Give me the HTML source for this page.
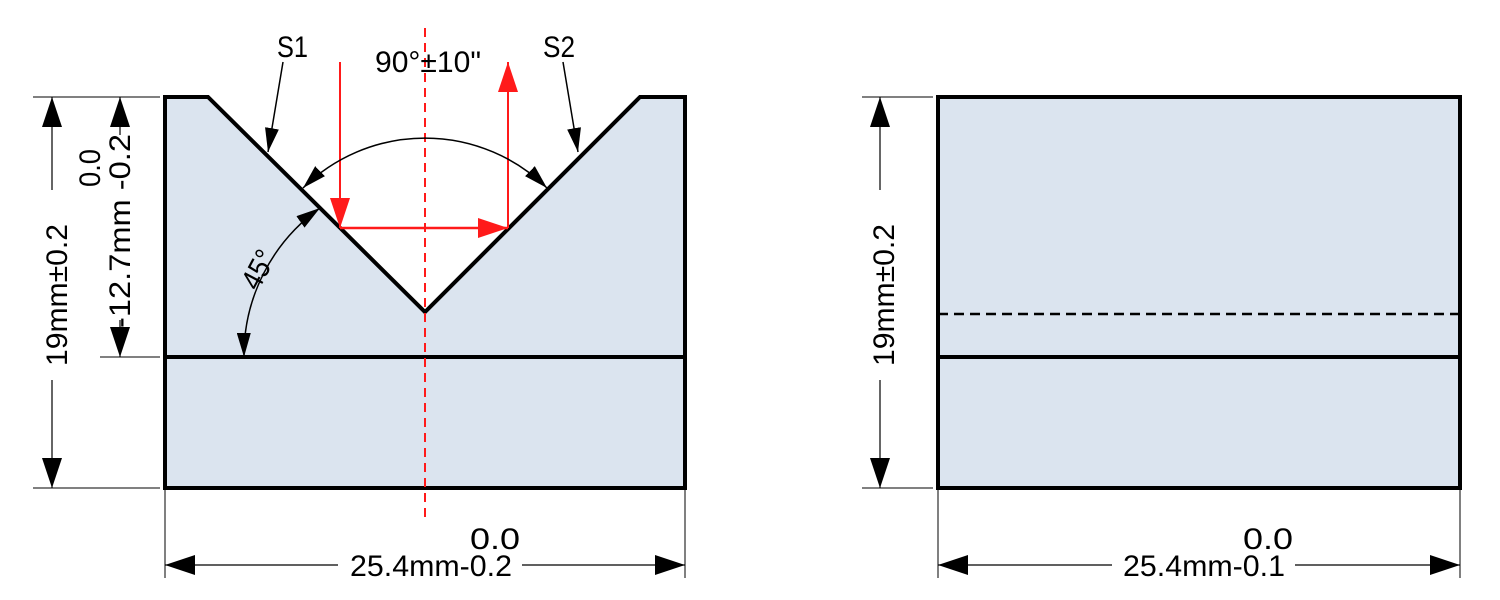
<!DOCTYPE html>
<html><head><meta charset="utf-8"><style>
html,body{margin:0;padding:0;background:#fff;}
svg{display:block;}
text{font-family:"Liberation Sans Narrow","Liberation Sans",sans-serif;font-size:30px;fill:#000;}
</style></head><body>
<svg width="1500" height="600" viewBox="0 0 1500 600" xmlns="http://www.w3.org/2000/svg">
<defs>
<marker id="a" viewBox="0 0 30 20" refX="30" refY="10" markerWidth="30" markerHeight="20" markerUnits="userSpaceOnUse" orient="auto-start-reverse"><path d="M0,0 L30,10 L0,20 Z" fill="#000"/></marker>
<marker id="s" viewBox="0 0 24 14" refX="24" refY="7" markerWidth="24" markerHeight="14" markerUnits="userSpaceOnUse" orient="auto-start-reverse"><path d="M0,0 L24,7 L0,14 Z" fill="#000"/></marker>
<marker id="r" viewBox="0 0 30 20" refX="30" refY="10" markerWidth="30" markerHeight="20" markerUnits="userSpaceOnUse" orient="auto"><path d="M0,0 L30,10 L0,20 Z" fill="#ff1a1a"/></marker>
</defs>

<path d="M165,97 L208,97 L425,312 L640,97 L685,97 L685,488 L165,488 Z" fill="#dbe4ef" stroke="#000" stroke-width="4"/>
<line x1="165" y1="357" x2="685" y2="357" stroke="#000" stroke-width="4"/>
<line x1="425" y1="28" x2="425" y2="518" stroke="#ff1a1a" stroke-width="2" stroke-dasharray="9,6"/>

<line x1="340" y1="62" x2="340" y2="228" stroke="#ff1a1a" stroke-width="2" marker-end="url(#r)"/>
<line x1="340" y1="228" x2="508" y2="228" stroke="#ff1a1a" stroke-width="2.5" marker-end="url(#r)"/>
<line x1="508" y1="228" x2="508" y2="62" stroke="#ff1a1a" stroke-width="2" marker-end="url(#r)"/>

<path d="M303,188 A174,174 0 0 1 547,188" fill="none" stroke="#000" stroke-width="1.5" marker-start="url(#s)" marker-end="url(#s)"/>
<path d="M244,357 A181,181 0 0 1 320,208" fill="none" stroke="#000" stroke-width="1.5" marker-start="url(#s)" marker-end="url(#s)"/>
<text transform="translate(258,292) rotate(-62)" textLength="40" lengthAdjust="spacingAndGlyphs">45°</text>

<line x1="283" y1="62" x2="268" y2="152" stroke="#000" stroke-width="1.5" marker-end="url(#s)"/>
<line x1="563" y1="62" x2="578" y2="152" stroke="#000" stroke-width="1.5" marker-end="url(#s)"/>
<text x="277" y="57" textLength="31" lengthAdjust="spacingAndGlyphs">S1</text>
<text x="543" y="57" textLength="32" lengthAdjust="spacingAndGlyphs">S2</text>
<text x="375" y="72" textLength="106" lengthAdjust="spacingAndGlyphs">90°±10"</text>

<line x1="33" y1="97" x2="160" y2="97" stroke="#000" stroke-width="1"/>
<line x1="33" y1="488" x2="160" y2="488" stroke="#000" stroke-width="1"/>
<line x1="100" y1="357" x2="160" y2="357" stroke="#000" stroke-width="1"/>
<line x1="52" y1="190" x2="52" y2="97" stroke="#000" stroke-width="1.2" marker-end="url(#a)"/>
<line x1="52" y1="380" x2="52" y2="488" stroke="#000" stroke-width="1.2" marker-end="url(#a)"/>
<text transform="translate(67,366) rotate(-90)" textLength="142" lengthAdjust="spacingAndGlyphs">19mm±0.2</text>
<line x1="120" y1="135" x2="120" y2="97" stroke="#000" stroke-width="1.2" marker-end="url(#a)"/>
<line x1="120" y1="320" x2="120" y2="357" stroke="#000" stroke-width="1.2" marker-end="url(#a)"/>
<text transform="translate(130,328) rotate(-90)" textLength="194" lengthAdjust="spacingAndGlyphs">-12.7mm -0.2</text>
<text transform="translate(100,187) rotate(-90)" textLength="38" lengthAdjust="spacingAndGlyphs">0.0</text>

<line x1="165" y1="490" x2="165" y2="578" stroke="#000" stroke-width="1"/>
<line x1="685" y1="490" x2="685" y2="578" stroke="#000" stroke-width="1"/>
<line x1="250" y1="565" x2="165" y2="565" stroke="#000" stroke-width="1.2" marker-end="url(#a)"/>
<line x1="600" y1="565" x2="685" y2="565" stroke="#000" stroke-width="1.2" marker-end="url(#a)"/>
<line x1="250" y1="565" x2="338" y2="565" stroke="#000" stroke-width="1.2"/>
<line x1="522" y1="565" x2="600" y2="565" stroke="#000" stroke-width="1.2"/>
<text x="350" y="576" textLength="162" lengthAdjust="spacingAndGlyphs">25.4mm-0.2</text>
<text x="470" y="549" textLength="50" lengthAdjust="spacingAndGlyphs">0.0</text>

<rect x="938" y="97" width="522" height="391" fill="#dbe4ef" stroke="#000" stroke-width="4"/>
<line x1="938" y1="357" x2="1460" y2="357" stroke="#000" stroke-width="4"/>
<line x1="938" y1="314" x2="1460" y2="314" stroke="#000" stroke-width="2.5" stroke-dasharray="10,6"/>

<line x1="862" y1="97" x2="933" y2="97" stroke="#000" stroke-width="1"/>
<line x1="862" y1="488" x2="933" y2="488" stroke="#000" stroke-width="1"/>
<line x1="880" y1="190" x2="880" y2="97" stroke="#000" stroke-width="1.2" marker-end="url(#a)"/>
<line x1="880" y1="380" x2="880" y2="488" stroke="#000" stroke-width="1.2" marker-end="url(#a)"/>
<text transform="translate(894,366) rotate(-90)" textLength="142" lengthAdjust="spacingAndGlyphs">19mm±0.2</text>

<line x1="938" y1="490" x2="938" y2="578" stroke="#000" stroke-width="1"/>
<line x1="1460" y1="490" x2="1460" y2="578" stroke="#000" stroke-width="1"/>
<line x1="1020" y1="565" x2="938" y2="565" stroke="#000" stroke-width="1.2" marker-end="url(#a)"/>
<line x1="1375" y1="565" x2="1460" y2="565" stroke="#000" stroke-width="1.2" marker-end="url(#a)"/>
<line x1="1020" y1="565" x2="1112" y2="565" stroke="#000" stroke-width="1.2"/>
<line x1="1295" y1="565" x2="1375" y2="565" stroke="#000" stroke-width="1.2"/>
<text x="1123" y="576" textLength="162" lengthAdjust="spacingAndGlyphs">25.4mm-0.1</text>
<text x="1243" y="549" textLength="50" lengthAdjust="spacingAndGlyphs">0.0</text>
</svg>
</body></html>
